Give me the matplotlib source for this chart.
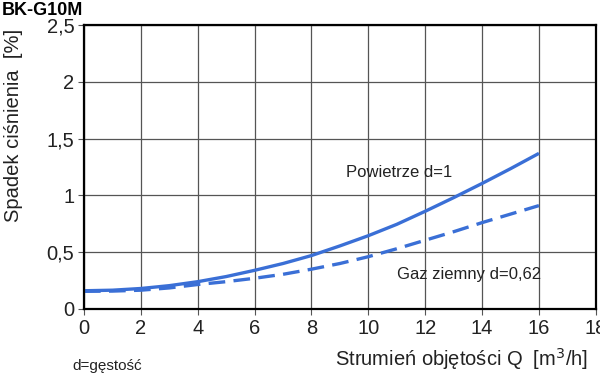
import matplotlib
matplotlib.use('Agg')
import matplotlib.pyplot as plt

# data (every 1 m3/h)
q = [0, 1, 2, 3, 4, 5, 6, 7, 8, 9, 10, 11, 12, 13, 14, 15, 16]
air = [0.16, 0.165, 0.18, 0.205, 0.24, 0.285, 0.34, 0.40, 0.47, 0.555,
       0.645, 0.745, 0.86, 0.98, 1.105, 1.235, 1.37]
gas = [0.155, 0.157, 0.165, 0.185, 0.215, 0.24, 0.27, 0.305, 0.35, 0.40,
       0.46, 0.53, 0.605, 0.68, 0.76, 0.835, 0.91]

xticks = [0, 2, 4, 6, 8, 10, 12, 14, 16, 18]
yticks = [0, 0.5, 1, 1.5, 2, 2.5]
ylabels = ['0', '0,5', '1', '1,5', '2', '2,5']

plt.rcParams['font.family'] = ['Liberation Sans', 'DejaVu Sans']

fig = plt.figure(figsize=(6, 3.74), dpi=100)
ax = fig.add_axes([0.14, 0.174, 0.853, 0.759])

blue = '#3a6fd6'
ax.plot(q, air, color=blue, lw=2.4, solid_capstyle='butt')
ax.plot(q, gas, color=blue, lw=2.4, ls=(0, (5, 2.5)))

ax.set_xlim(0, 18)
ax.set_ylim(0, 2.5)
ax.set_xticks(xticks)
ax.set_yticks(yticks)
ax.set_yticklabels(ylabels)
ax.grid(True, color='#555555', lw=0.9)
ax.tick_params(labelsize=14.5, direction='out', length=4, color='#555555',
               pad=3, labelcolor='#222222')
for s in ax.spines.values():
    s.set_linewidth(1.6)

ax.text(9.2, 1.2, 'Powietrze d=1', fontsize=12, ha='left', va='center',
        color='#222222')
ax.text(11.0, 0.30, 'Gaz ziemny d=0,62', fontsize=12, ha='left',
        va='center', color='#222222')

fig.text(0.003, 0.973, 'BK-G10M', fontsize=13, fontweight='bold', va='center')
fig.text(0.022, 0.665, 'Spadek ciśnienia  [%]', fontsize=14.5, rotation=90,
         ha='center', va='center', color='#222222')
fig.text(0.98, 0.04, 'Strumień objętości Q  [m$^3$/h]', fontsize=14.5,
         ha='right', va='center', color='#222222')
fig.text(0.12, 0.021, 'd=gęstość', fontsize=11, ha='left', va='center',
         color='#222222')

fig.savefig('out.png', dpi=100)
